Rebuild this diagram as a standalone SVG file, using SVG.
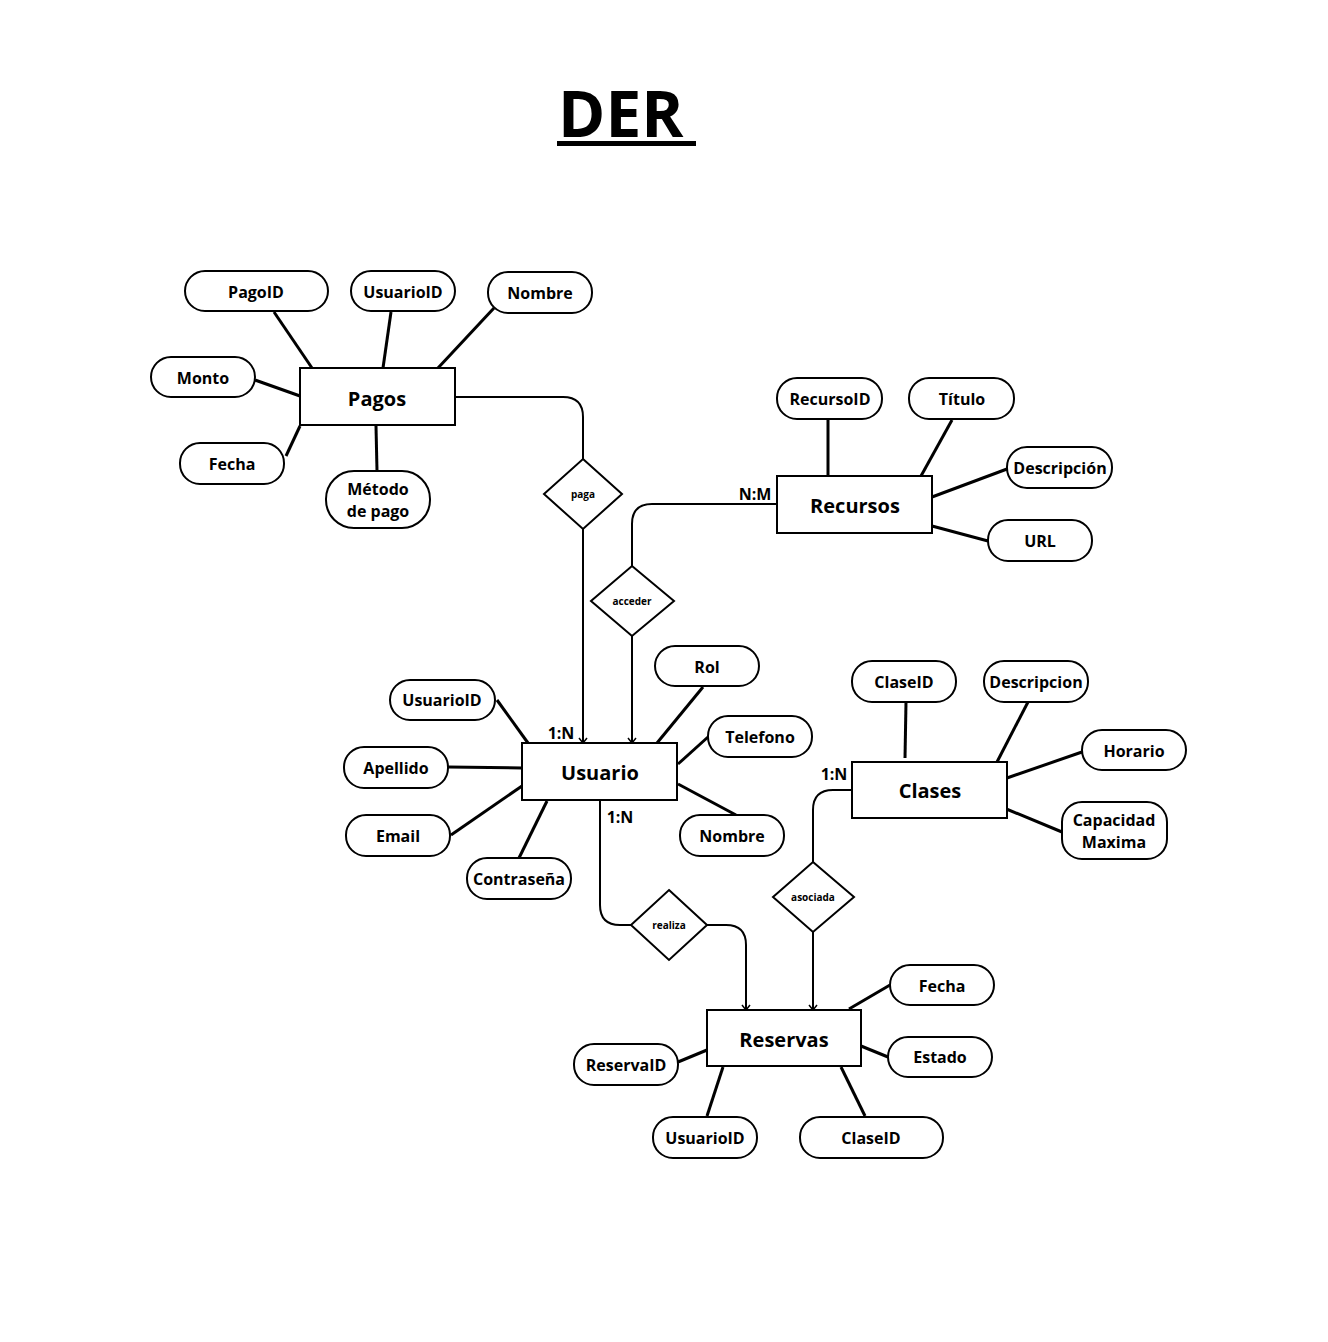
<svg xmlns="http://www.w3.org/2000/svg" width="1328" height="1342" viewBox="0 0 1328 1342">
<style>
text{font-family:"Open Sans","Noto Sans","Liberation Sans",sans-serif;font-weight:bold;fill:#000;text-anchor:middle;dominant-baseline:central}
.ent rect{fill:#fff;stroke:#000;stroke-width:2}
.ent text{font-size:20px}
.att rect{fill:#fff;stroke:#000;stroke-width:2}
.att text{font-size:16px}
.rel polygon{fill:#fff;stroke:#000;stroke-width:2}
.rel text{font-size:10px}
.al{stroke:#000;stroke-width:3;fill:none}
.cn{stroke:#000;stroke-width:2;fill:none}
.lbl{font-size:16px}
</style>
<defs>
<marker id="arr" viewBox="-6 -6 8 12" refX="0" refY="0" markerWidth="8" markerHeight="12" markerUnits="userSpaceOnUse" orient="auto">
<path d="M-5,-4 L0,0 L-5,4" fill="none" stroke="#000" stroke-width="1.5"/>
</marker>
</defs>
<rect width="1328" height="1342" fill="#fff"/>
<g id="title">
<text x="558" y="112" style="font-size:64px;text-anchor:start">DER</text>
<rect x="557" y="141" width="139" height="5" fill="#000"/>
</g>

<g id="connectors">
<!-- Pagos attributes -->
<line class="al" x1="274" y1="312" x2="312" y2="368"/>
<line class="al" x1="391" y1="312" x2="383" y2="368"/>
<line class="al" x1="494" y1="308" x2="438" y2="368"/>
<line class="al" x1="255" y1="380" x2="300" y2="396"/>
<line class="al" x1="286" y1="456" x2="300" y2="426"/>
<line class="al" x1="376" y1="426" x2="377" y2="471"/>
<!-- Recursos attributes -->
<line class="al" x1="828" y1="420" x2="828" y2="476"/>
<line class="al" x1="952" y1="420" x2="921" y2="476"/>
<line class="al" x1="1007" y1="469" x2="932" y2="497"/>
<line class="al" x1="988" y1="541" x2="932" y2="526"/>
<!-- Usuario attributes -->
<line class="al" x1="497" y1="700" x2="528" y2="743"/>
<line class="al" x1="448" y1="767" x2="522" y2="768"/>
<line class="al" x1="451" y1="835" x2="522" y2="786"/>
<line class="al" x1="547" y1="801" x2="519" y2="858"/>
<line class="al" x1="703" y1="687" x2="657" y2="743"/>
<line class="al" x1="708" y1="737" x2="678" y2="764"/>
<line class="al" x1="678" y1="784" x2="736" y2="815"/>
<!-- Clases attributes -->
<line class="al" x1="906" y1="702" x2="905" y2="758"/>
<line class="al" x1="1028" y1="702" x2="997" y2="762"/>
<line class="al" x1="1082" y1="752" x2="1007" y2="778"/>
<line class="al" x1="1004" y1="808" x2="1062" y2="832"/>
<!-- Reservas attributes -->
<line class="al" x1="890" y1="985" x2="849" y2="1009"/>
<line class="al" x1="861" y1="1046" x2="888" y2="1057"/>
<line class="al" x1="678" y1="1062" x2="707" y2="1050"/>
<line class="al" x1="723" y1="1067" x2="707" y2="1116"/>
<line class="al" x1="841" y1="1067" x2="865" y2="1116"/>
<!-- relationships -->
<path class="cn" d="M455,397 H563 Q583,397 583,417 V459"/>
<path class="cn" d="M583,529 V743" marker-end="url(#arr)"/>
<path class="cn" d="M777,504 H652 Q632,504 632,524 V566"/>
<path class="cn" d="M632,636 V743" marker-end="url(#arr)"/>
<path class="cn" d="M600,800 V905 Q600,925 620,925 H631"/>
<path class="cn" d="M707,925 H726 Q746,925 746,945 V1010" marker-end="url(#arr)"/>
<path class="cn" d="M852,790 H833 Q813,790 813,810 V862"/>
<path class="cn" d="M813,932 V1010" marker-end="url(#arr)"/>
<text class="lbl" x="561" y="733">1:N</text>
<text class="lbl" x="755" y="494">N:M</text>
<text class="lbl" x="620" y="817">1:N</text>
<text class="lbl" x="834" y="774">1:N</text>
</g>

<g id="rel-paga" class="rel"><polygon points="583,459 622,494 583,529 544,494"/><text x="583" y="494">paga</text></g>
<g id="rel-acceder" class="rel"><polygon points="632,566 674,601 632,636 591,601"/><text x="632" y="601">acceder</text></g>
<g id="rel-realiza" class="rel"><polygon points="669,890 707,925 669,960 631,925"/><text x="669" y="925">realiza</text></g>
<g id="rel-asociada" class="rel"><polygon points="813,862 854,897 813,932 773,897"/><text x="813" y="897">asociada</text></g>

<g id="ent-pagos" class="ent"><rect x="300" y="368" width="155" height="57"/><text x="377" y="398">Pagos</text></g>
<g id="ent-recursos" class="ent"><rect x="777" y="476" width="155" height="57"/><text x="855" y="505">Recursos</text></g>
<g id="ent-usuario" class="ent"><rect x="522" y="743" width="155" height="57"/><text x="600" y="772">Usuario</text></g>
<g id="ent-clases" class="ent"><rect x="852" y="762" width="155" height="56"/><text x="930" y="790">Clases</text></g>
<g id="ent-reservas" class="ent"><rect x="707" y="1010" width="154" height="56"/><text x="784" y="1039">Reservas</text></g>

<g id="att-pago-pagoid" class="att"><rect x="185" y="271" width="143" height="40" rx="20"/><text x="256" y="292">PagoID</text></g>
<g id="att-pago-usuarioid" class="att"><rect x="351" y="271" width="104" height="40" rx="20"/><text x="403" y="292">UsuarioID</text></g>
<g id="att-pago-nombre" class="att"><rect x="488" y="272" width="104" height="41" rx="20"/><text x="540" y="293">Nombre</text></g>
<g id="att-pago-monto" class="att"><rect x="151" y="357" width="104" height="40" rx="20"/><text x="203" y="378">Monto</text></g>
<g id="att-pago-fecha" class="att"><rect x="180" y="443" width="104" height="41" rx="20"/><text x="232" y="464">Fecha</text></g>
<g id="att-pago-metodo" class="att"><rect x="326" y="471" width="104" height="57" rx="28"/><text x="378" y="489">Método</text><text x="378" y="511">de pago</text></g>

<g id="att-rec-id" class="att"><rect x="777" y="378" width="105" height="41" rx="20"/><text x="830" y="399">RecursoID</text></g>
<g id="att-rec-titulo" class="att"><rect x="909" y="378" width="105" height="41" rx="20"/><text x="962" y="399">Título</text></g>
<g id="att-rec-desc" class="att"><rect x="1007" y="447" width="105" height="41" rx="20"/><text x="1060" y="468">Descripción</text></g>
<g id="att-rec-url" class="att"><rect x="988" y="520" width="104" height="41" rx="20"/><text x="1040" y="541">URL</text></g>

<g id="att-usu-id" class="att"><rect x="390" y="680" width="105" height="40" rx="20"/><text x="442" y="700">UsuarioID</text></g>
<g id="att-usu-apellido" class="att"><rect x="344" y="747" width="104" height="41" rx="20"/><text x="396" y="768">Apellido</text></g>
<g id="att-usu-email" class="att"><rect x="346" y="815" width="104" height="41" rx="20"/><text x="398" y="836">Email</text></g>
<g id="att-usu-pass" class="att"><rect x="467" y="858" width="104" height="41" rx="20"/><text x="519" y="879">Contraseña</text></g>
<g id="att-usu-rol" class="att"><rect x="655" y="646" width="104" height="40" rx="20"/><text x="707" y="667">Rol</text></g>
<g id="att-usu-tel" class="att"><rect x="708" y="716" width="104" height="41" rx="20"/><text x="760" y="737">Telefono</text></g>
<g id="att-usu-nombre" class="att"><rect x="680" y="815" width="104" height="41" rx="20"/><text x="732" y="836">Nombre</text></g>

<g id="att-cla-id" class="att"><rect x="852" y="661" width="104" height="41" rx="20"/><text x="904" y="682">ClaseID</text></g>
<g id="att-cla-desc" class="att"><rect x="984" y="661" width="104" height="41" rx="20"/><text x="1036" y="682">Descripcion</text></g>
<g id="att-cla-horario" class="att"><rect x="1082" y="730" width="104" height="40" rx="20"/><text x="1134" y="751">Horario</text></g>
<g id="att-cla-cap" class="att"><rect x="1062" y="802" width="105" height="57" rx="20"/><text x="1114" y="820">Capacidad</text><text x="1114" y="842">Maxima</text></g>

<g id="att-res-fecha" class="att"><rect x="890" y="965" width="104" height="40" rx="20"/><text x="942" y="986">Fecha</text></g>
<g id="att-res-estado" class="att"><rect x="888" y="1037" width="104" height="40" rx="20"/><text x="940" y="1057">Estado</text></g>
<g id="att-res-id" class="att"><rect x="574" y="1044" width="104" height="41" rx="20"/><text x="626" y="1065">ReservaID</text></g>
<g id="att-res-usuarioid" class="att"><rect x="653" y="1117" width="104" height="41" rx="20"/><text x="705" y="1138">UsuarioID</text></g>
<g id="att-res-claseid" class="att"><rect x="800" y="1117" width="143" height="41" rx="20"/><text x="871" y="1138">ClaseID</text></g>
</svg>
